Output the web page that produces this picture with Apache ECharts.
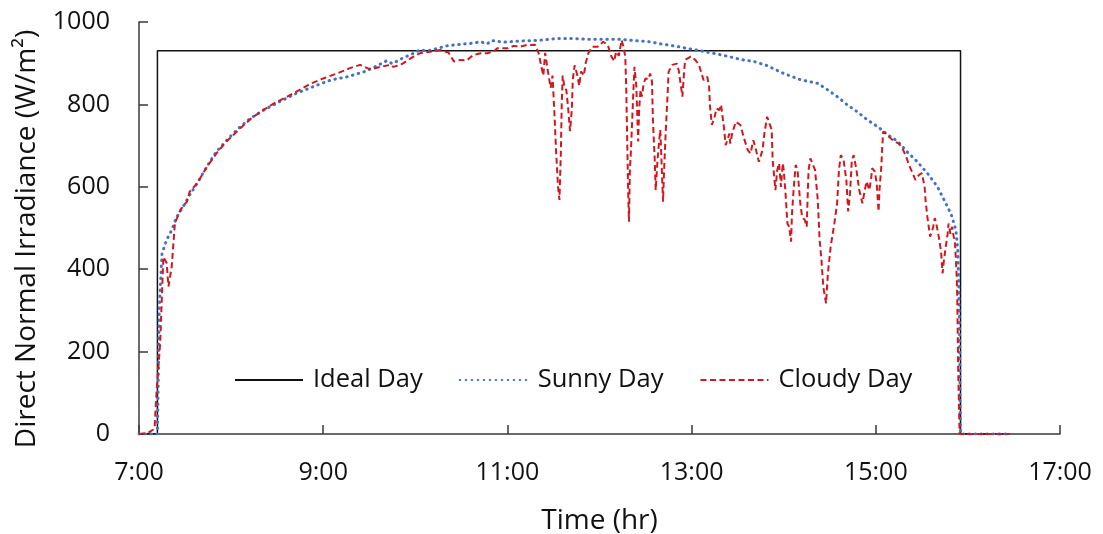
<!DOCTYPE html>
<html>
<head>
<meta charset="utf-8">
<script src="https://cdn.jsdelivr.net/npm/echarts@6/dist/echarts.min.js"></script>
<style>
html,body{margin:0;padding:0;background:#fff;}
#chart{width:1103px;height:534px;}
</style>
</head>
<body>
<div id="chart"></div>
<script>
// ---- data (time in decimal hours, irradiance in W/m2) ----
var seriesNames = ['Ideal Day', 'Sunny Day', 'Cloudy Day'];
var xTicks = [7, 9, 11, 13, 15, 17];
var yTicks = [0, 200, 400, 600, 800, 1000];

var idealDay = [[7.00,0],[7.20,0],[7.20,930],[15.92,930],[15.92,0],[16.45,0]];

var sunnyDay = [[7.00,0],[7.20,0],[7.21,139],[7.22,301],[7.25,438],[7.30,471],[7.355,495],[7.41,527],[7.48,552],[7.55,580],[7.63,608],[7.70,635],[7.77,661],[7.84,685],[7.92,705],[7.99,722],[8.10,746],[8.21,766],[8.35,786],[8.53,807],[8.71,827],[8.89,843],[9.08,859],[9.26,867],[9.44,879],[9.58,893],[9.69,906],[9.75,899],[9.86,912],[9.98,924],[10.05,932],[10.14,930],[10.24,936],[10.34,942],[10.49,946],[10.60,948],[10.71,952],[10.78,947],[10.83,955],[10.96,951],[11.14,954],[11.32,955],[11.54,960],[11.68,960],[11.87,958],[12.05,958],[12.23,958],[12.37,955],[12.55,952],[12.66,947],[12.81,942],[12.95,936],[13.10,930],[13.24,924],[13.39,917],[13.53,909],[13.68,904],[13.82,894],[14.00,875],[14.18,860],[14.37,851],[14.48,835],[14.58,819],[14.69,799],[14.80,782],[14.91,762],[15.02,746],[15.13,726],[15.24,710],[15.34,685],[15.45,661],[15.56,633],[15.67,600],[15.76,560],[15.82,532],[15.87,495],[15.89,447],[15.90,366],[15.91,245],[15.915,82],[15.92,0],[16.45,0]];

var cloudyDay = [[7.00,0],[7.10,3],[7.15,10],[7.17,18],[7.19,100],[7.23,221],[7.25,342],[7.265,430],[7.30,415],[7.32,358],[7.355,406],[7.39,512],[7.45,544],[7.52,564],[7.55,588],[7.63,608],[7.74,649],[7.84,681],[7.95,710],[8.10,742],[8.24,770],[8.35,786],[8.46,802],[8.61,819],[8.71,831],[8.86,850],[9.00,863],[9.15,875],[9.29,888],[9.40,896],[9.51,885],[9.62,891],[9.73,896],[9.76,891],[9.84,896],[9.95,912],[10.05,924],[10.16,928],[10.27,932],[10.36,926],[10.42,904],[10.49,908],[10.56,907],[10.63,920],[10.71,924],[10.78,924],[10.85,928],[10.89,936],[11.00,936],[11.07,942],[11.14,940],[11.21,944],[11.30,945],[11.34,924],[11.37,890],[11.39,870],[11.41,925],[11.44,880],[11.47,840],[11.49,870],[11.51,780],[11.53,680],[11.55,600],[11.565,568],[11.58,680],[11.59,800],[11.60,870],[11.62,840],[11.64,835],[11.66,790],[11.68,735],[11.70,790],[11.71,860],[11.73,895],[11.76,870],[11.78,845],[11.80,880],[11.83,870],[11.85,900],[11.88,925],[11.92,940],[11.98,940],[12.04,952],[12.09,944],[12.13,916],[12.16,905],[12.18,928],[12.21,918],[12.24,956],[12.26,940],[12.28,916],[12.29,843],[12.30,722],[12.31,600],[12.32,515],[12.33,641],[12.34,681],[12.355,762],[12.37,843],[12.38,891],[12.40,843],[12.42,710],[12.43,786],[12.445,835],[12.46,819],[12.48,851],[12.50,863],[12.53,861],[12.55,875],[12.57,855],[12.58,762],[12.60,665],[12.61,592],[12.63,665],[12.645,705],[12.66,738],[12.67,681],[12.69,564],[12.70,633],[12.72,738],[12.74,827],[12.75,879],[12.79,896],[12.84,899],[12.86,883],[12.88,851],[12.90,819],[12.92,883],[12.93,908],[12.99,916],[13.04,908],[13.08,896],[13.13,859],[13.17,867],[13.19,843],[13.20,795],[13.22,750],[13.25,770],[13.27,790],[13.30,786],[13.32,799],[13.35,746],[13.37,701],[13.41,729],[13.42,705],[13.44,729],[13.48,758],[13.53,750],[13.57,717],[13.61,689],[13.64,681],[13.67,713],[13.70,689],[13.73,661],[13.77,689],[13.79,729],[13.82,770],[13.84,774],[13.87,738],[13.88,665],[13.91,592],[13.93,641],[13.95,657],[13.97,600],[13.99,657],[14.00,641],[14.02,584],[14.04,511],[14.06,503],[14.08,467],[14.09,535],[14.11,600],[14.13,653],[14.15,641],[14.18,560],[14.20,527],[14.23,519],[14.25,503],[14.26,576],[14.27,641],[14.29,669],[14.31,673],[14.34,641],[14.37,568],[14.39,471],[14.41,422],[14.43,357],[14.46,317],[14.48,390],[14.51,455],[14.55,511],[14.58,560],[14.60,641],[14.62,677],[14.65,665],[14.68,617],[14.70,540],[14.72,584],[14.74,665],[14.76,677],[14.79,641],[14.82,592],[14.855,560],[14.88,592],[14.90,613],[14.93,592],[14.95,621],[14.96,645],[14.99,637],[15.01,608],[15.03,540],[15.04,592],[15.06,649],[15.07,697],[15.08,734],[15.11,729],[15.14,722],[15.20,710],[15.25,705],[15.29,693],[15.33,673],[15.36,653],[15.40,633],[15.43,617],[15.47,629],[15.50,633],[15.53,600],[15.54,568],[15.56,527],[15.59,479],[15.62,499],[15.64,524],[15.66,507],[15.69,471],[15.71,439],[15.725,390],[15.74,422],[15.76,455],[15.78,486],[15.79,511],[15.81,486],[15.83,503],[15.84,486],[15.86,463],[15.87,422],[15.88,374],[15.885,324],[15.895,150],[15.91,0],[16.45,0]];

var FONT = '"Open Sans", "Noto Sans", sans-serif';
var chart = echarts.init(document.getElementById('chart'), null, {renderer: 'canvas'});
chart.setOption({
  animation: false,
  backgroundColor: '#ffffff',
  grid: {left: 139, right: 43, top: 22, bottom: 100, containLabel: false, outerBoundsMode: 'none'},
  legend: {
    data: seriesNames,
    left: 229, top: 362,
    itemWidth: 68, itemHeight: 14, itemGap: 36,
    itemStyle: {opacity: 0},
    textStyle: {fontFamily: FONT, fontSize: 25.5, color: '#111', padding: [0,0,0,5]}
  },
  xAxis: {
    type: 'value', min: xTicks[0], max: xTicks[xTicks.length-1], interval: 2,
    name: 'Time (hr)', nameLocation: 'middle', nameGap: 73,
    nameTextStyle: {fontFamily: FONT, fontSize: 28, color: '#111'},
    axisLine: {show: true, lineStyle: {color: '#3a3a3a', width: 1.5}},
    axisTick: {show: true, inside: true, length: 9, lineStyle: {color: '#3a3a3a', width: 1.5}},
    axisLabel: {fontFamily: FONT, fontSize: 25, color: '#111', margin: 26, formatter: function(v){ return v + ':00'; }},
    splitLine: {show: false}
  },
  yAxis: {
    type: 'value', min: yTicks[0], max: yTicks[yTicks.length-1], interval: 200,
    name: 'Direct Normal Irradiance (W/m²)', nameLocation: 'middle', nameGap: 98,
    nameTextStyle: {fontFamily: FONT, fontSize: 28, color: '#111', padding: [0, 22, 0, 0]},
    axisLine: {show: true, lineStyle: {color: '#3a3a3a', width: 1.5}},
    axisTick: {show: true, inside: true, length: 9, lineStyle: {color: '#3a3a3a', width: 1.5}},
    axisLabel: {fontFamily: FONT, fontSize: 25, color: '#111', margin: 29, formatter: function(v){ return String(v); }},
    splitLine: {show: false}
  },
  series: [
    {name: seriesNames[0], type: 'line', data: idealDay, symbol: 'none', z: 3,
     lineStyle: {color: '#111111', width: 1.5, type: 'solid'}, itemStyle: {color: '#111111'}},
    {name: seriesNames[1], type: 'line', data: sunnyDay, symbol: 'none', z: 4,
     lineStyle: {color: '#4472C4', width: 3, type: [0.5, 5.5], cap: 'round'}, itemStyle: {color: '#4472C4'}},
    {name: seriesNames[2], type: 'line', data: cloudyDay, symbol: 'none', z: 5,
     lineStyle: {color: '#D0181E', width: 2, type: [6, 3.5]}, itemStyle: {color: '#D0181E'}}
  ]
});
</script>
</body>
</html>
